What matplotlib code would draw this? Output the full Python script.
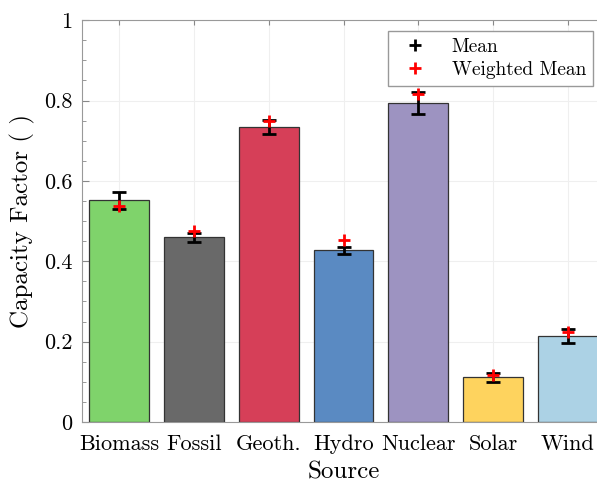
import matplotlib.pyplot as plt
import numpy as np

plt.rcParams['font.family'] = 'serif'
plt.rcParams['font.serif'] = ['cmr10', 'DejaVu Serif']
plt.rcParams['mathtext.fontset'] = 'cm'
plt.rcParams['axes.formatter.use_mathtext'] = True

sources = ["Biomass", "Fossil", "Geoth.", "Hydro", "Nuclear", "Solar", "Wind"]
means = [0.552, 0.460, 0.734, 0.427, 0.794, 0.111, 0.214]
errors = [0.021, 0.011, 0.018, 0.008, 0.028, 0.012, 0.017]
weighted = [0.537, 0.475, 0.748, 0.453, 0.817, 0.117, 0.225]
colors = ["#7fd36b", "#696969", "#d63f58", "#5a8ac2", "#9d93c1", "#fed35e", "#acd2e5"]

fig = plt.figure(figsize=(5.97, 4.83), dpi=100)
ax = fig.add_axes([0.1374, 0.1263, 0.876, 0.832])

x = np.arange(1, len(sources) + 1)
ax.bar(x, means, width=0.8, color=colors, edgecolor="#333333", linewidth=0.9, zorder=2)
ax.errorbar(x, means, yerr=errors, fmt="none", ecolor="black", elinewidth=2,
            capsize=5, capthick=2, zorder=3)
ax.plot([], [], "+", color="black", markersize=9, markeredgewidth=2, label="Mean")
ax.plot(x, weighted, "+", color="red", markersize=9, markeredgewidth=2,
        label="Weighted Mean", zorder=4)

ax.set_xlim(0.5, 7.5)
ax.set_ylim(0, 1)
ax.set_xticks(x)
ax.set_xticklabels(sources)
ax.set_yticks([0, 0.2, 0.4, 0.6, 0.8, 1])
ax.set_yticklabels(["0", "0.2", "0.4", "0.6", "0.8", "1"])
ax.set_yticks(np.arange(0, 1.001, 0.05), minor=True)
ax.tick_params(axis="both", which="both", direction="in", top=True, right=True,
               labelsize=16, color="#888888")
ax.tick_params(axis="x", which="major", pad=9)
ax.tick_params(axis="y", which="major", length=5, pad=7)
ax.tick_params(axis="y", which="minor", length=3)
ax.grid(True, color="#efefef", linewidth=0.8, zorder=0)
ax.set_axisbelow(True)
for s in ax.spines.values():
    s.set_color("#999999")

ax.set_xlabel("Source", fontsize=18, labelpad=5)
ax.set_ylabel("Capacity Factor ( )", fontsize=18, labelpad=6)

ax.legend(loc="upper right", bbox_to_anchor=(0.993, 0.935), bbox_transform=fig.transFigure,
          fontsize=14, fancybox=False, edgecolor="#999999", framealpha=1,
          handletextpad=0.9, borderpad=0.35, labelspacing=0.25, borderaxespad=0)

fig.savefig("out.png", dpi=100)
